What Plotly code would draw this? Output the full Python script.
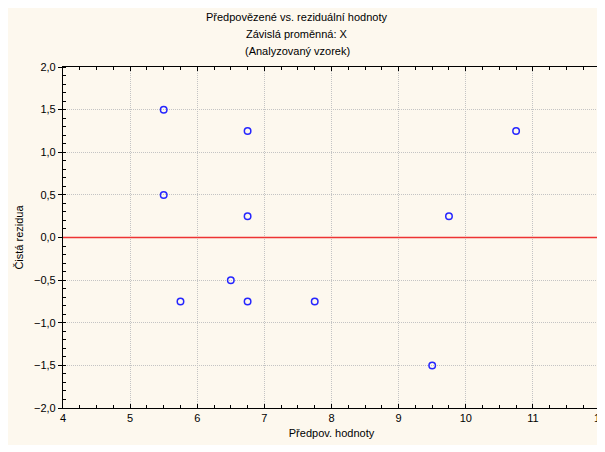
import plotly.graph_objects as go

# predicted values vs. raw residuals
predicted = [5.5, 5.5, 6.75, 6.75, 5.75, 6.5, 6.75, 7.75, 9.5, 9.75, 10.75]
residuals = [1.5, 0.5, 1.25, 0.25, -0.75, -0.5, -0.75, -0.75, -1.5, 0.25, 1.25]

title_lines = ["Předpovězené vs. reziduální hodnoty",
               "Závislá proměnná: X",
               "(Analyzovaný vzorek)"]

FONT = "Liberation Sans, Arial, sans-serif"
CREAM = "#fdf8ee"

# page body adds an 8px margin; the figure runs a little past the right edge
W, H = 605, 444
L, T, R, B = 55, 59, 592, 400
PW, PH = R - L, B - T


def create_plot():
    fig = go.Figure()
    fig.add_trace(go.Scatter(x=predicted, y=residuals, mode="markers",
                             marker=dict(symbol="circle-open", size=6.5,
                                         color="#2626ff", line=dict(width=1.5)),
                             showlegend=False))
    fig.add_hline(y=0, line=dict(color="#ee3333", width=1.6))

    axis_common = dict(showline=True, linecolor="black", linewidth=1.2,
                       mirror="allticks", showgrid=True, gridcolor="#c4c4c4",
                       griddash="1px,1px", gridwidth=1, zeroline=False,
                       tickfont=dict(size=11, color="black"),
                       ticklen=4, tickcolor="black", automargin=False,
                       ticklabeloverflow="allow")
    fig.update_xaxes(range=[4, 12], dtick=1, ticks="inside",
                     minor=dict(dtick=0.25, ticks="inside", ticklen=3,
                                tickcolor="black", showgrid=False),
                     title=dict(text="Předpov. hodnoty", standoff=6,
                                font=dict(size=11)),
                     **axis_common)
    fig.update_yaxes(range=[-2, 2], dtick=0.5, tickformat=".1f", ticks="outside",
                     minor=dict(dtick=0.1, ticks="inside", ticklen=3,
                                tickcolor="black", showgrid=False),
                     title=dict(text="Čistá rezidua", standoff=8,
                                font=dict(size=11)),
                     **axis_common)

    # cream panel, white strip along the bottom
    fig.add_shape(type="rect", xref="paper", yref="paper", layer="below",
                  x0=-L / PW, x1=(W - L) / PW,
                  y0=(B - 437) / PH, y1=B / PH,
                  fillcolor=CREAM, line=dict(width=0))

    for i, txt in enumerate(title_lines):
        fig.add_annotation(text=txt, xref="paper", yref="paper",
                           x=(289 - L) / PW, y=(B - 9 - 17 * i) / PH,
                           showarrow=False, xanchor="center", yanchor="middle",
                           font=dict(size=11, color="black"))

    fig.update_layout(width=W, height=H, separators=", ",
                      font=dict(family=FONT, size=11, color="black"),
                      paper_bgcolor="white", plot_bgcolor="white",
                      margin=dict(l=L, r=W - R, t=T, b=H - B))
    return fig


fig = create_plot()
fig.write_html("out.html")
